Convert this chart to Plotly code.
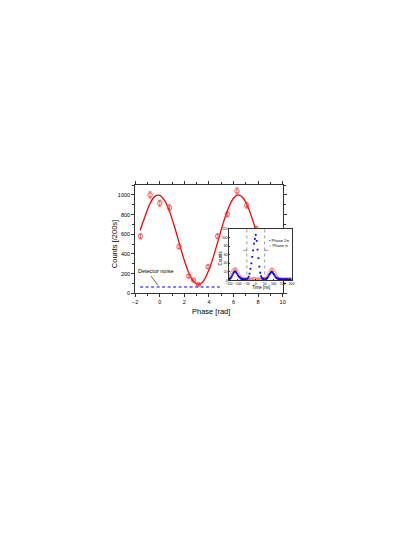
import plotly.graph_objects as go

# ---------------- data ----------------
phase = [-1.57, -0.79, 0.0, 0.79, 1.57, 2.36, 2.75, 3.14, 3.93, 4.71, 5.50, 6.28, 7.07, 7.85]
counts = [580, 1000, 915, 870, 475, 175, 135, 90, 270, 580, 805, 1040, 895, 655]
counts_err = [25, 32, 30, 30, 22, 14, 12, 10, 16, 24, 28, 32, 30, 26]

fit_phase = [-1.6, -1.2, -0.8, -0.4, 0.0, 0.4, 0.8, 1.2, 1.6, 2.0, 2.4, 2.8, 3.2,
             3.6, 4.0, 4.4, 4.8, 5.2, 5.6, 6.0, 6.4, 6.8, 7.2, 7.6, 8.0]
fit_counts = [640, 780, 910, 985, 996, 942, 830, 676, 502, 335, 198, 113, 91,
              135, 238, 388, 559, 729, 870, 966, 1000, 966, 870, 729, 559]

noise_phase = [-1.6, 4.9]
noise_counts = [65, 65]

time_ns = list(range(-150, 205, 5))
phase_2pi = [3, 4, 6, 9, 13, 17, 20, 21, 19, 16, 12, 9, 7, 5, 4, 3, 3, 2, 3, 2,
             3, 5, 9, 16, 27, 40, 55, 70, 86, 97, 106, 92, 72, 52, 32, 18, 10, 6, 4, 3,
             2, 3, 4, 6, 9, 13, 16, 19, 20, 18, 15, 12, 9, 6, 5, 4, 3, 3, 2, 3,
             2, 3, 2, 3, 2, 3, 2, 2, 3, 2, 2]
phase_pi = [6, 9, 14, 18, 22, 25, 27, 28, 26, 23, 19, 15, 11, 8, 6, 5, 4, 4, 3, 4,
            3, 4, 3, 4, 3, 4, 3, 4, 5, 4, 3, 4, 3, 4, 3, 4, 3, 4, 3, 4,
            4, 5, 7, 10, 14, 18, 22, 25, 27, 26, 23, 19, 15, 11, 8, 6, 5, 4, 4, 3,
            4, 3, 4, 3, 4, 3, 4, 3, 4, 3, 4]
gate_ns = [-50, 50]
gate_arrow_level = 70

x_ticks = [-2, 0, 2, 4, 6, 8, 10]
y_ticks = [0, 200, 400, 600, 800, 1000]
inset_x_ticks = [-150, -100, -50, 0, 50, 100, 150, 200]
inset_y_ticks = [0, 20, 40, 60, 80, 100, 120]

FONT = "Liberation Sans, Arial, sans-serif"
RED = "#ff0000"
BLUE = "#0000ff"
W, H = 415, 537
OFF = 8  # page body margin


def px(x):
    return (x - OFF) / W


def py(y):
    return (H - (y - OFF)) / H


fig = go.Figure()

fig.add_trace(go.Scatter(x=fit_phase, y=fit_counts, mode="lines", line=dict(color=RED, width=1.3, shape="spline"),
                         xaxis="x", yaxis="y", showlegend=False, hoverinfo="skip"))
fig.add_trace(go.Scatter(x=phase, y=counts, mode="markers",
                         marker=dict(symbol="circle-open", color="#ff3333", size=4.5, line=dict(width=0.8)),
                         error_y=dict(type="data", array=counts_err, color="#ff3333", thickness=0.7, width=1.5),
                         xaxis="x", yaxis="y", showlegend=False))
fig.add_trace(go.Scatter(x=noise_phase, y=noise_counts, mode="lines",
                         line=dict(color=BLUE, width=1.1, dash="3px,2.5px"),
                         xaxis="x", yaxis="y", showlegend=False))

fig.add_trace(go.Scatter(x=time_ns, y=phase_pi, mode="markers",
                         marker=dict(symbol="circle-open", color="#ff6666", size=2.4, line=dict(width=0.5)),
                         xaxis="x2", yaxis="y2", showlegend=False))
fig.add_trace(go.Scatter(x=time_ns, y=phase_2pi, mode="markers",
                         marker=dict(symbol="square", color=BLUE, size=1.8),
                         xaxis="x2", yaxis="y2", showlegend=False))

shapes = []
for g in gate_ns:
    shapes.append(dict(type="line", xref="x2", yref="y2 domain", x0=g, x1=g, y0=0, y1=1,
                       line=dict(color="#555", width=0.6, dash="dot")))

annotations = [
    dict(text="Phase [rad]", x=px(210), y=py(312.5), xref="paper", yref="paper",
         showarrow=False, font=dict(size=7.5, family=FONT, color="black")),
    dict(text="Counts [/200s]", x=px(105.5), y=py(244), xref="paper", yref="paper",
         textangle=-90, showarrow=False, font=dict(size=7.5, family=FONT, color="black")),
    dict(text="Detector noise", x=-0.33, y=224, xref="x", yref="y", showarrow=False,
         font=dict(size=5.5, family=FONT, color="black")),
    dict(text="", x=-0.13, y=80, ax=-0.8, ay=190, xref="x", yref="y", axref="x", ayref="y",
         showarrow=True, arrowhead=0, arrowwidth=0.6, arrowcolor="black"),
    dict(text="Time [ns]", x=px(261.7), y=py(288.5), xref="paper", yref="paper",
         showarrow=False, font=dict(size=4.5, family=FONT, color="black")),
    dict(text="Counts", x=px(220.5), y=py(258), xref="paper", yref="paper", textangle=-90,
         showarrow=False, font=dict(size=4.5, family=FONT, color="black")),
    dict(text='<span style="color:#0000ff">&#9642;</span> Phase 2&#960;', x=px(267), y=py(241),
         xref="paper", yref="paper", xanchor="left", showarrow=False,
         font=dict(size=4, family=FONT, color="black")),
    dict(text='<span style="color:#ff0000">&#9675;</span> Phase &#960;', x=px(267), y=py(245.5),
         xref="paper", yref="paper", xanchor="left", showarrow=False,
         font=dict(size=4, family=FONT, color="black")),
    dict(text="", x=gate_ns[0], y=gate_arrow_level, ax=gate_ns[0]-30, ay=gate_arrow_level,
         xref="x2", yref="y2", axref="x2", ayref="y2", showarrow=True, arrowhead=1,
         arrowsize=0.6, arrowwidth=0.5, arrowcolor="#555"),
    dict(text="", x=gate_ns[1], y=gate_arrow_level, ax=gate_ns[1]+30, ay=gate_arrow_level,
         xref="x2", yref="y2", axref="x2", ayref="y2", showarrow=True, arrowhead=1,
         arrowsize=0.6, arrowwidth=0.5, arrowcolor="#555"),
]

axis_common = dict(showgrid=False, zeroline=False, showline=True, linecolor="#333", linewidth=1,
                   ticks="outside", tickcolor="#333", tickwidth=0.8, ticklen=3,
                   tickfont=dict(size=5.5, family=FONT, color="black"))
inset_common = dict(showgrid=False, zeroline=False, showline=True, mirror=True, linecolor="#333",
                    linewidth=0.6, ticks="inside", ticklen=1.5, tickwidth=0.5, tickcolor="#333",
                    tickangle=0, tickfont=dict(size=3.3, family=FONT, color="black"))

fig.update_layout(
    width=W, height=H, margin=dict(l=0, r=0, t=0, b=0),
    paper_bgcolor="white", plot_bgcolor="white", showlegend=False,
    xaxis=dict(domain=[px(133.3), px(283.3)], range=[-2, 10], tickvals=x_ticks, anchor="y",
               mirror="ticks", minor=dict(dtick=1, ticklen=2, tickcolor="#333", ticks="outside"),
               **axis_common),
    yaxis=dict(domain=[py(294), py(184.7)], range=[0, 1100], tickvals=y_ticks, anchor="x",
               mirror="ticks", minor=dict(dtick=100, ticklen=2, tickcolor="#333", ticks="outside"),
               **axis_common),
    xaxis2=dict(domain=[px(228.7), px(292.3)], range=[-150, 200], tickvals=inset_x_ticks, anchor="y2",
                **inset_common),
    yaxis2=dict(domain=[py(281), py(229)], range=[0, 120], tickvals=inset_y_ticks, anchor="x2",
                **inset_common),
    shapes=shapes, annotations=annotations,
)

fig.write_html("out.html")
